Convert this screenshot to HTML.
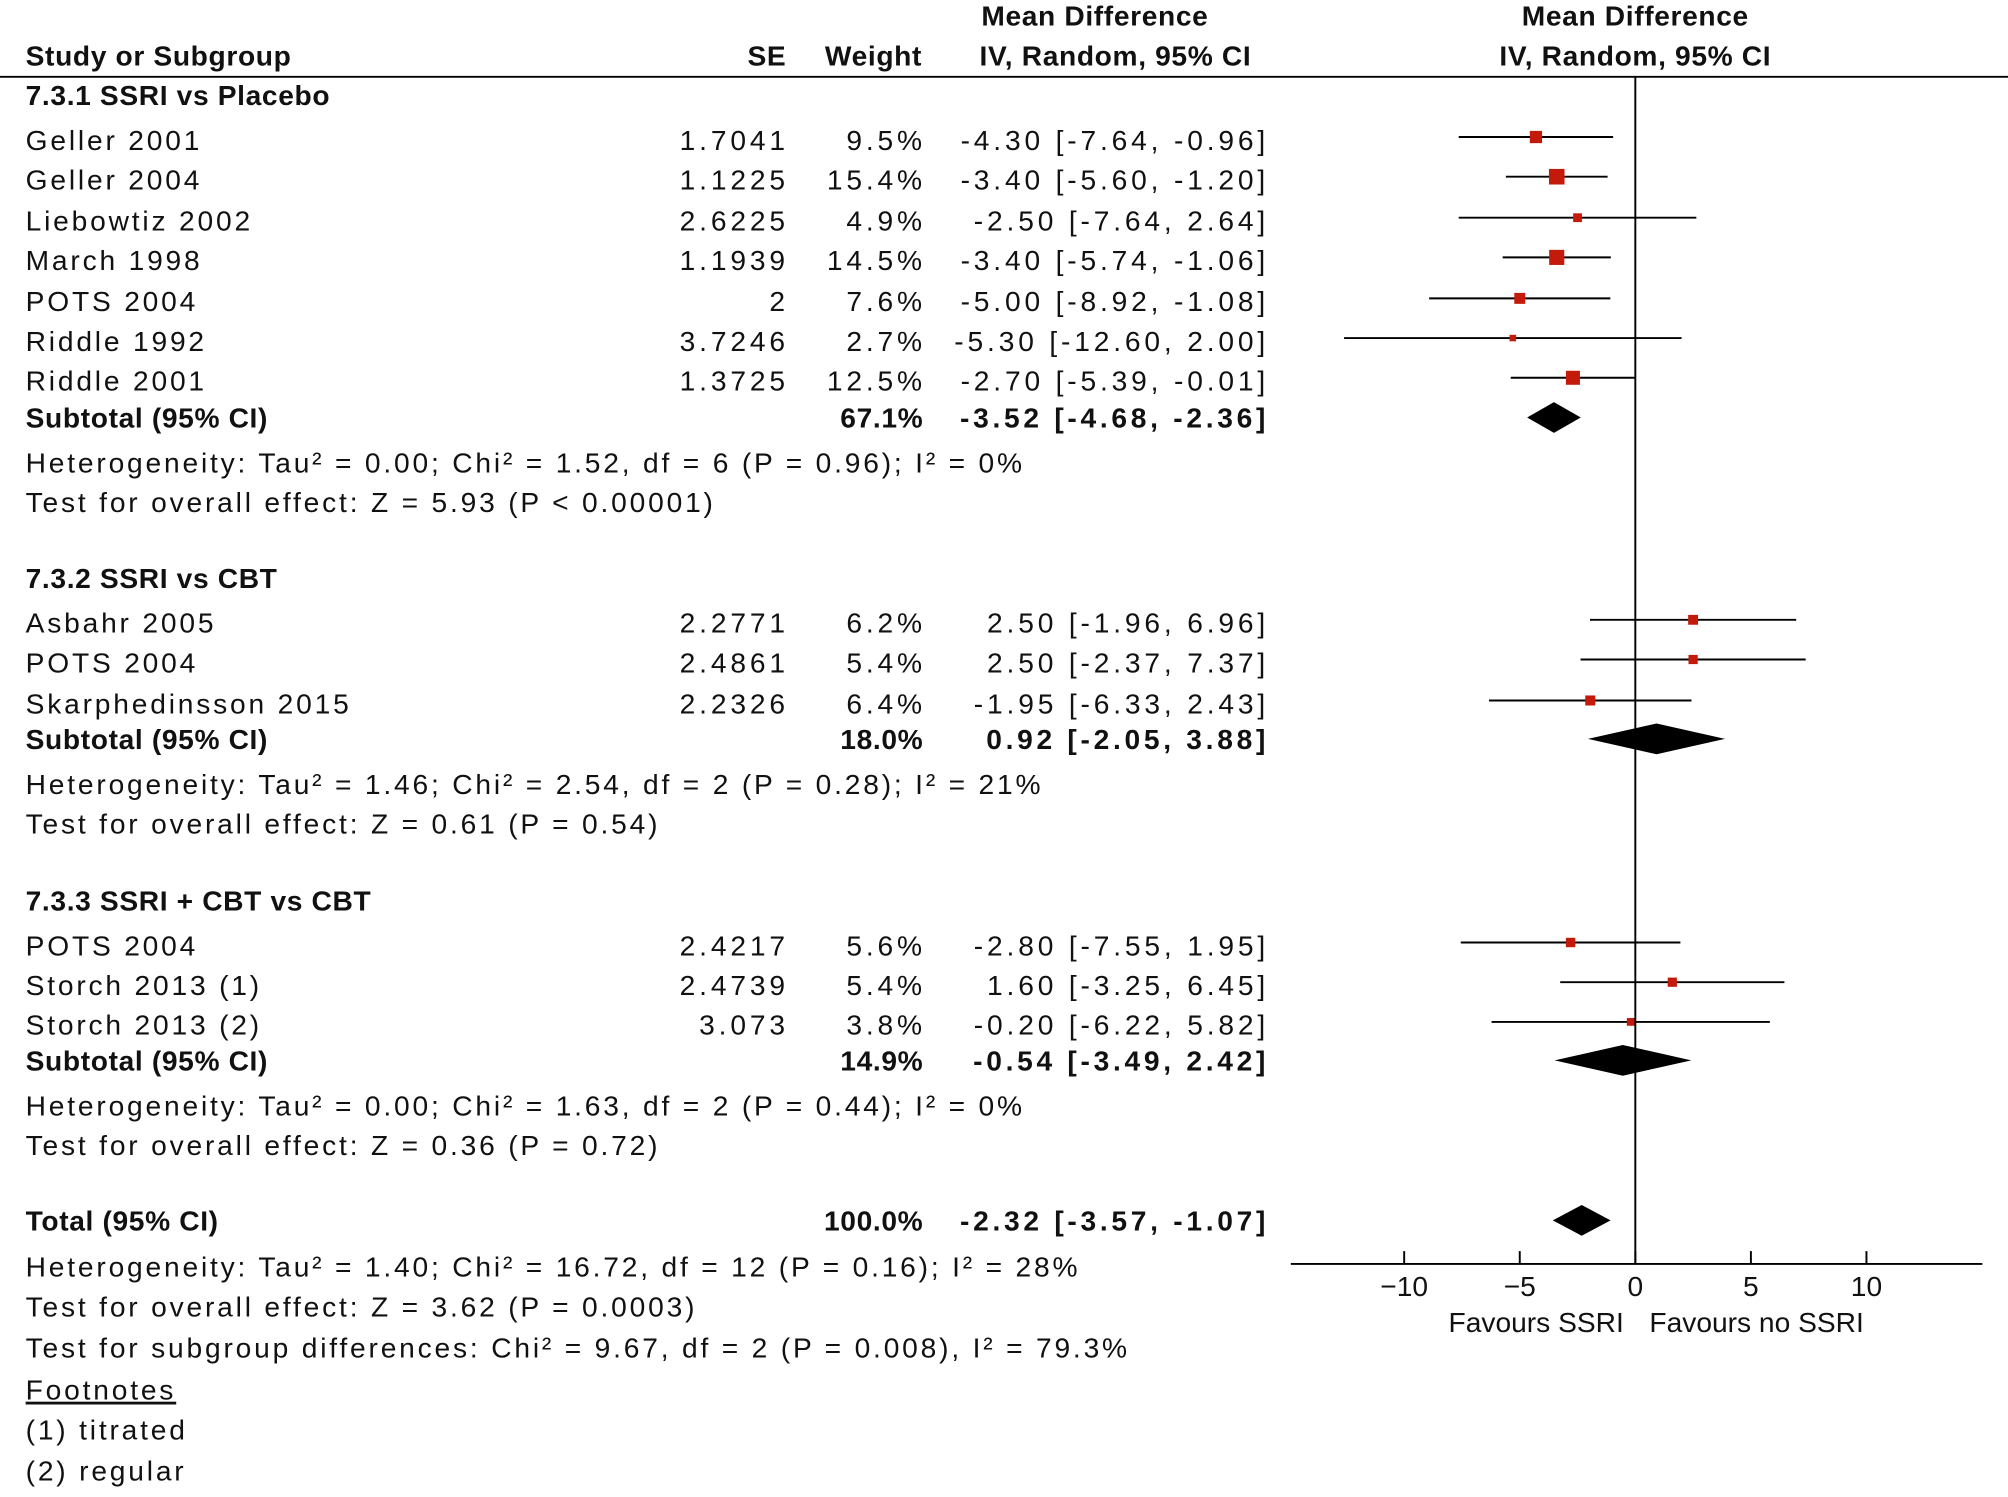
<!DOCTYPE html>
<html><head><meta charset="utf-8"><style>
html,body{margin:0;padding:0;background:#fff;}
svg{display:block;}
text{font-family:"Liberation Sans",sans-serif;font-size:22px;fill:#111;}
.r{letter-spacing:2.2px;}
.n{letter-spacing:3px;}
.b{font-weight:bold;letter-spacing:0.5px;}
.bn{font-weight:bold;letter-spacing:2.9px;}
</style></head><body>
<svg id="chart" width="2008" height="1497" viewBox="0 0 1568 1169" xmlns="http://www.w3.org/2000/svg">
<g>
<text class="b" x="20" y="51">Study or Subgroup</text>
<text class="b" x="614" y="51" text-anchor="end">SE</text>
<text class="b" x="720" y="51" text-anchor="end">Weight</text>
<text class="b" x="855" y="20" text-anchor="middle">Mean Difference</text>
<text class="b" x="871" y="51" text-anchor="middle">IV, Random, 95% CI</text>
<text class="b" x="1277" y="20" text-anchor="middle">Mean Difference</text>
<text class="b" x="1277" y="51" text-anchor="middle">IV, Random, 95% CI</text>
<line x1="0" y1="60" x2="1568" y2="60" stroke="#000" stroke-width="1.5"/>
</g>
<g id="rows"></g>
<g id="plot"></g>
</svg>
<script>
const names=["Geller 2001","Geller 2004","Liebowtiz 2002","March 1998","POTS 2004","Riddle 1992","Riddle 2001","Asbahr 2005","POTS 2004","Skarphedinsson 2015","POTS 2004","Storch 2013 (1)","Storch 2013 (2)"];
const seVals=["1.7041","1.1225","2.6225","1.1939","2","3.7246","1.3725","2.2771","2.4861","2.2326","2.4217","2.4739","3.073"];
const weights=[9.5,15.4,4.9,14.5,7.6,2.7,12.5,6.2,5.4,6.4,5.6,5.4,3.8];
const md=[-4.30,-3.40,-2.50,-3.40,-5.00,-5.30,-2.70,2.50,2.50,-1.95,-2.80,1.60,-0.20];
const lo=[-7.64,-5.60,-7.64,-5.74,-8.92,-12.60,-5.39,-1.96,-2.37,-6.33,-7.55,-3.25,-6.22];
const hi=[-0.96,-1.20,2.64,-1.06,-1.08,2.00,-0.01,6.96,7.37,2.43,1.95,6.45,5.82];
const rowY=[109,140,172,203,235,266,297,486,517,549,738,769,800];
const subW=["67.1%","18.0%","14.9%","100.0%"];
const subMd=[-3.52,0.92,-0.54,-2.32];
const subLo=[-4.68,-2.05,-3.49,-3.57];
const subHi=[-2.36,3.88,2.42,-1.07];
const subY=[326,577,828,953];
const ticks=[-10,-5,0,5,10];
const NS="http://www.w3.org/2000/svg";
const x0=1277, ppu=18.05;
function xs(v){return x0+v*ppu;}
function fmt(v){return v.toFixed(2);}
function mk(tag,at,txt){const e=document.createElementNS(NS,tag);for(const k in at)e.setAttribute(k,at[k]);if(txt!==undefined)e.textContent=txt;return e;}
const rows=document.getElementById('rows'), plot=document.getElementById('plot');
function t(x,y,s,cls,anchor,name){const e=mk('text',{x:x,y:y+8});if(cls)e.setAttribute('class',cls);if(anchor)e.setAttribute('text-anchor',anchor);


e.textContent=s;rows.appendChild(e);return e;}
const lines=[
[74,"7.3.1 SSRI vs Placebo","b","group-title-1"],
[361,"Heterogeneity: Tau² = 0.00; Chi² = 1.52, df = 6 (P = 0.96); I² = 0%","r","heterogeneity-1"],
[392,"Test for overall effect: Z = 5.93 (P < 0.00001)","r","overall-effect-1"],
[451,"7.3.2 SSRI vs CBT","b","group-title-2"],
[612,"Heterogeneity: Tau² = 1.46; Chi² = 2.54, df = 2 (P = 0.28); I² = 21%","r","heterogeneity-2"],
[643,"Test for overall effect: Z = 0.61 (P = 0.54)","r","overall-effect-2"],
[703,"7.3.3 SSRI + CBT vs CBT","b","group-title-3"],
[863,"Heterogeneity: Tau² = 0.00; Chi² = 1.63, df = 2 (P = 0.44); I² = 0%","r","heterogeneity-3"],
[894,"Test for overall effect: Z = 0.36 (P = 0.72)","r","overall-effect-3"],
[989,"Heterogeneity: Tau² = 1.40; Chi² = 16.72, df = 12 (P = 0.16); I² = 28%","r","heterogeneity-total"],
[1020,"Test for overall effect: Z = 3.62 (P = 0.0003)","r","overall-effect-total"],
[1052,"Test for subgroup differences: Chi² = 9.67, df = 2 (P = 0.008), I² = 79.3%","r","subgroup-differences"],
[1085,"Footnotes","r","footnotes-title"],
[1116,"(1) titrated","r","footnote-1"],
[1148,"(2) regular","r","footnote-2"]];
lines.forEach(l=>{const e=t(20,l[0],l[1],l[2],null,l[3]);if(l[3]==="footnotes-title")e.setAttribute('text-decoration','underline');});
names.forEach((n,i)=>{
 const y=rowY[i];
 t(20,y,n,"r",null,"study-name");
 t(616,y,seVals[i],"n","end","se-value");
 t(723,y,weights[i].toFixed(1)+"%","n","end","weight-value");
 t(991,y,fmt(md[i])+" ["+fmt(lo[i])+", "+fmt(hi[i])+"]","n","end","ci-value");
 const yy=y-2;
 const ln=mk('line',{x1:xs(lo[i]),x2:xs(hi[i]),y1:yy,y2:yy,stroke:'#000','stroke-width':1.5});
 
 
 plot.appendChild(ln);
 const s=3.1*Math.sqrt(weights[i]);
 const r=mk('rect',{x:xs(md[i])-s/2,y:yy-s/2,width:s,height:s,fill:'#c41a0c'});
 
 
 plot.appendChild(r);
});
subY.forEach((y,i)=>{
 const total=i===3;
 t(20,y,total?"Total (95% CI)":"Subtotal (95% CI)","b",null,total?"total-label":"subtotal-label");
 t(721,y,subW[i],"b","end","subtotal-weight");
 t(991,y,fmt(subMd[i])+" ["+fmt(subLo[i])+", "+fmt(subHi[i])+"]","bn","end","subtotal-ci");
 const h=12;
 const p=mk('polygon',{points:`${xs(subLo[i])},${y} ${xs(subMd[i])},${y-h} ${xs(subHi[i])},${y} ${xs(subMd[i])},${y+h}`,fill:'#000'});
 
 
 plot.appendChild(p);
});
const vl=mk('line',{x1:x0,x2:x0,y1:60,y2:987,stroke:'#000','stroke-width':1.5});


plot.appendChild(vl);
const ax=mk('line',{x1:1008,x2:1548,y1:987,y2:987,stroke:'#000','stroke-width':1.5});


plot.appendChild(ax);
ticks.forEach(v=>{
 const tk=mk('line',{x1:xs(v),x2:xs(v),y1:977,y2:987,stroke:'#000','stroke-width':1.5});
 
 
 plot.appendChild(tk);
 const lb=mk('text',{x:xs(v),y:1012,'text-anchor':'middle'},v<0?"−"+Math.abs(v):String(v));
 
 
 plot.appendChild(lb);
});
const f1=mk('text',{x:1268,y:1040,'text-anchor':'end'},"Favours SSRI");


plot.appendChild(f1);
const f2=mk('text',{x:1288,y:1040},"Favours no SSRI");


plot.appendChild(f2);
</script>
</body></html>
